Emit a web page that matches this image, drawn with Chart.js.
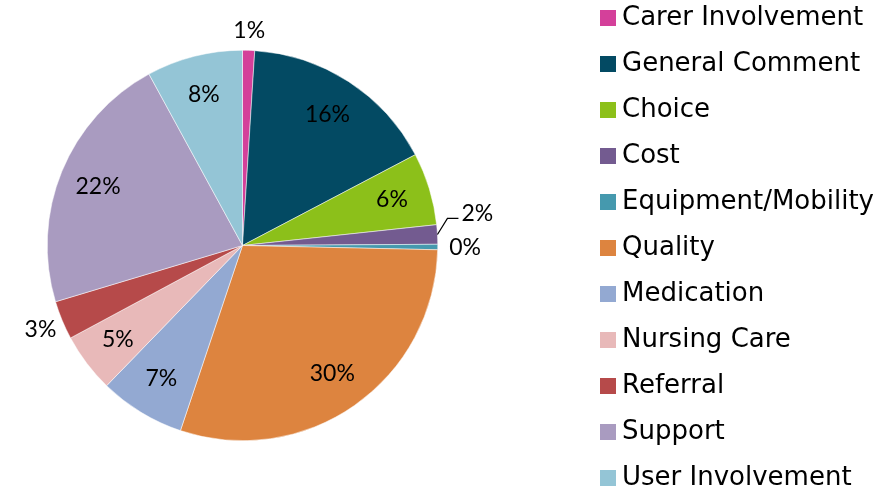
<!DOCTYPE html>
<html>
<head>
<meta charset="utf-8">
<script src="https://cdn.jsdelivr.net/npm/chart.js@4.4.0/dist/chart.umd.min.js"></script>
<style>
    html, body { margin: 0; padding: 0; background: #fff; }
    #wrap { width: 892px; height: 493px; }
</style>
</head>
<body>
<div id="wrap"><canvas id="commentsChart" width="892" height="493"></canvas></div>
<script>
    const categories = ['Carer Involvement', 'General Comment', 'Choice', 'Cost', 'Equipment/Mobility',
        'Quality', 'Medication', 'Nursing Care', 'Referral', 'Support', 'User Involvement'];
    const shares = [1.0, 16.3, 6.0, 1.6, 0.45, 29.8, 7.1, 4.9, 3.2, 21.7, 7.95];
    const sliceColours = ['#D4409A', '#034A63', '#8CC01A', '#735B90', '#4599AE', '#DD843F',
        '#93A9D2', '#E8B9B9', '#B64A4A', '#A99BC0', '#94C5D6'];

    // label placement per slice: radius factor, or 'leader' for the small one with a line
    const labelPlacement = [1.1, 0.8, 0.8, 'leader', 1.14, 0.8, 0.8, 0.8, 1.12, 0.8, 0.8];

    const pieLabels = {
        id: 'pieLabels',
        afterDatasetsDraw(chart) {
            const ctx = chart.ctx;
            const meta = chart.getDatasetMeta(0);
            const data = chart.data.datasets[0].data;
            const total = data.reduce((a, b) => a + b, 0);
            ctx.save();
            ctx.font = '23px Lato';
            ctx.fillStyle = '#000';
            ctx.textBaseline = 'middle';
            meta.data.forEach((arc, i) => {
                const p = arc.getProps(['x', 'y', 'startAngle', 'endAngle', 'outerRadius'], true);
                const mid = (p.startAngle + p.endAngle) / 2;
                const text = Math.round(data[i] / total * 100) + '%';
                const place = labelPlacement[i];
                if (place === 'leader') {
                    const sx = p.x + Math.cos(mid) * p.outerRadius;
                    const sy = p.y + Math.sin(mid) * p.outerRadius;
                    ctx.strokeStyle = '#000';
                    ctx.lineWidth = 1.2;
                    ctx.beginPath();
                    ctx.moveTo(sx, sy);
                    ctx.lineTo(sx + 10, sy - 16);
                    ctx.lineTo(sx + 21, sy - 16);
                    ctx.stroke();
                    ctx.textAlign = 'left';
                    ctx.fillText(text, sx + 24, sy - 21);
                } else {
                    ctx.textAlign = 'center';
                    const r = p.outerRadius * place;
                    ctx.fillText(text, p.x + Math.cos(mid) * r, p.y + Math.sin(mid) * r);
                }
            });
            ctx.restore();
        }
    };

    const sideLegend = {
        id: 'sideLegend',
        afterDraw(chart, args, opts) {
            const ctx = chart.ctx;
            const colours = chart.data.datasets[0].backgroundColor;
            ctx.save();
            ctx.font = opts.font;
            ctx.textBaseline = 'middle';
            ctx.textAlign = 'left';
            chart.data.labels.forEach((label, i) => {
                const cy = opts.top + i * opts.rowHeight;
                ctx.fillStyle = colours[i];
                ctx.fillRect(opts.left, cy - opts.box / 2, opts.box, opts.box);
                ctx.fillStyle = '#000';
                ctx.fillText(label, opts.left + opts.box + 6, cy);
            });
            ctx.restore();
        }
    };

    new Chart(document.getElementById('commentsChart'), {
        type: 'pie',
        data: {
            labels: categories,
            datasets: [{
                data: shares,
                backgroundColor: sliceColours,
                borderColor: '#ffffff',
                borderWidth: 0.5
            }]
        },
        options: {
            responsive: false,
            animation: false,
            layout: { padding: { left: 47, right: 454, top: 50, bottom: 52 } },
            plugins: {
                legend: { display: false },
                tooltip: { enabled: false },
                sideLegend: { left: 600, top: 18, rowHeight: 46, box: 16, font: '26px "DejaVu Sans"' }
            }
        },
        plugins: [pieLabels, sideLegend]
    });
</script>
</body>
</html>
